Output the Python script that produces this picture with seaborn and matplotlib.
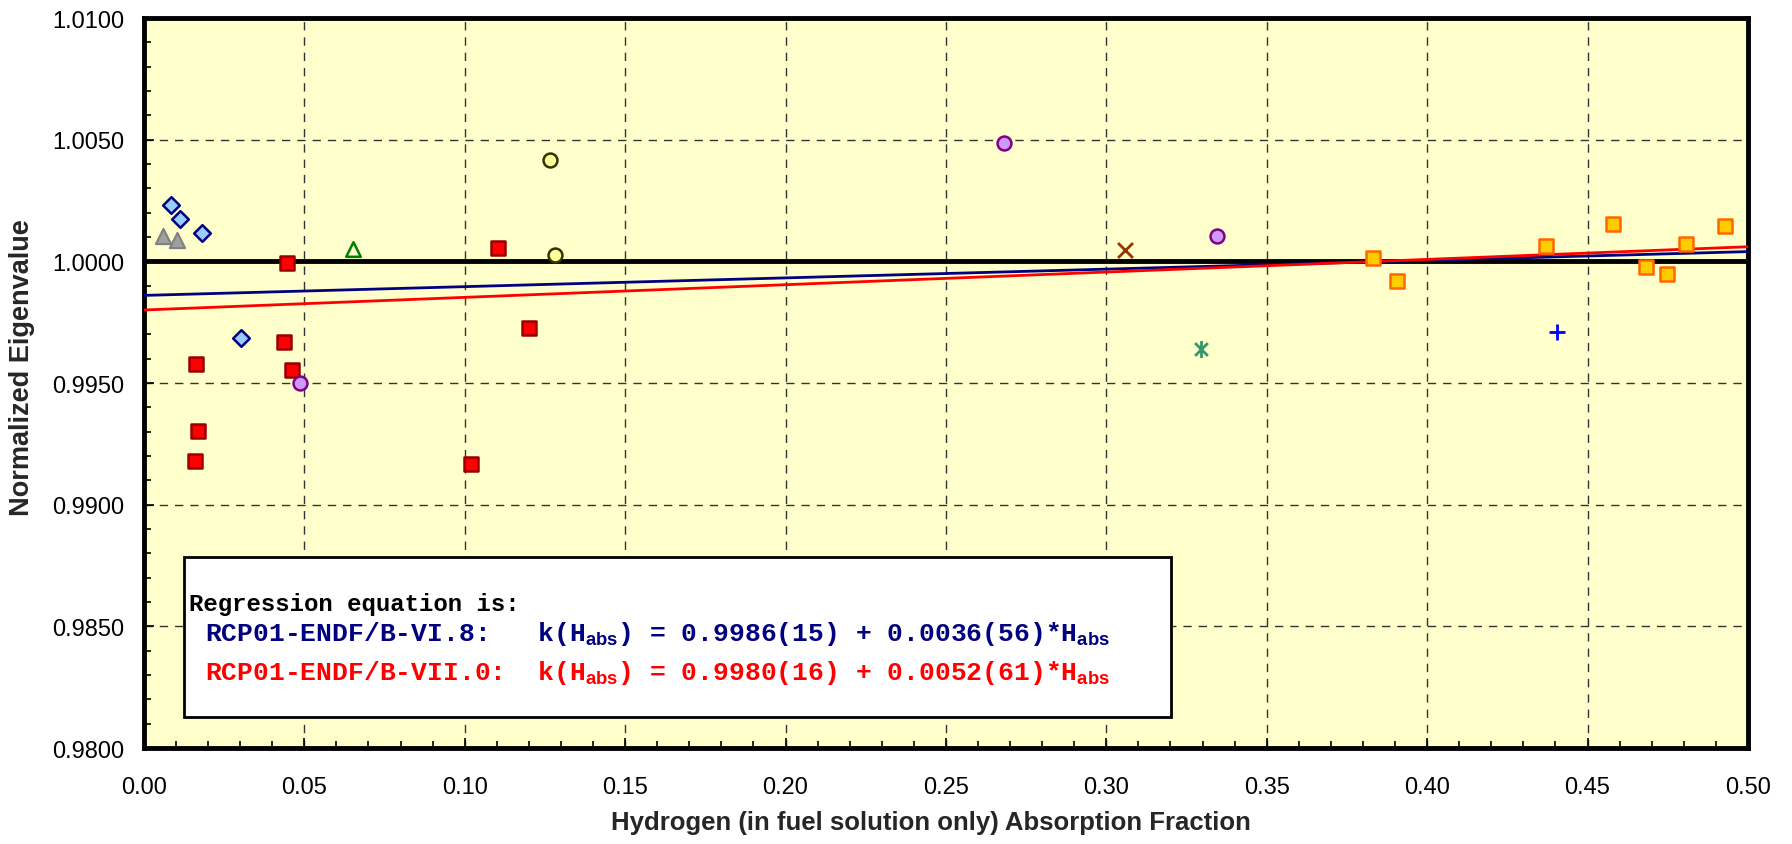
import numpy as np
import matplotlib
matplotlib.use("Agg")
import matplotlib.pyplot as plt
from matplotlib.patches import Rectangle
from matplotlib.path import Path
from matplotlib.ticker import MultipleLocator, FormatStrFormatter
import seaborn as sns

# ---------------- data ----------------
diamond_x = [0.0084, 0.0112, 0.0182, 0.0303]
diamond_y = [1.00230, 1.00173, 1.00115, 0.99683]

gray_tri_x = [0.0061, 0.0104]
gray_tri_y = [1.00104, 1.00088]

green_tri_x = [0.0651]
green_tri_y = [1.00049]

red_sq_x = [0.0447, 0.1105, 0.0436, 0.0161, 0.0463, 0.0168, 0.0160, 0.1019, 0.1199]
red_sq_y = [0.99995, 1.00055, 0.99670, 0.99580, 0.99553, 0.99302, 0.99181, 0.99169, 0.99727]

yellow_x = [0.1265, 0.1283]
yellow_y = [1.00417, 1.00025]

purple_x = [0.0487, 0.2681, 0.3344]
purple_y = [0.99501, 1.00488, 1.00104]

cross_x = [0.3059]
cross_y = [1.00045]

aster_x = [0.3295]
aster_y = [0.99641]

plus_x = [0.4404]
plus_y = [0.99711]

orange_x = [0.3831, 0.3907, 0.4370, 0.4579, 0.4681, 0.4747, 0.4806, 0.4930]
orange_y = [1.00012, 0.99919, 1.00065, 1.00154, 0.99977, 0.99947, 1.00070, 1.00145]

# regression fits k(H) = a + b*H
fit_names = ["RCP01-ENDF/B-VI.8:   ", "RCP01-ENDF/B-VII.0:  "]
fit_intercept = [0.9986, 0.9980]
fit_intercept_err = ["15", "16"]
fit_slope = [0.0036, 0.0052]
fit_slope_err = ["56", "61"]
fit_colors = ["#000080", "#FF0000"]

x_range = [0.0, 0.5]
y_range = [0.98, 1.01]

# ---------------- style ----------------
sns.set_style("ticks")
plt.rcParams["font.family"] = ["Liberation Sans", "DejaVu Sans"]
plt.rcParams["mathtext.fontset"] = "custom"
plt.rcParams["mathtext.sf"] = "Liberation Sans:bold"
plt.rcParams["mathtext.rm"] = "Liberation Mono:bold"

fig = plt.figure(figsize=(17.92, 8.45), dpi=100)
ax = fig.add_axes([0.0803, 0.1136, 0.8951, 0.8639])
ax.set_facecolor("#FFFFCC")

# grid
ax.set_axisbelow(True)
ax.grid(True, which="major", color="#333333", linestyle=(0, (6, 5)), linewidth=1.0)

# reference line at unity
ax.axhline(1.0, color="black", lw=3.5, zorder=2)

# regression lines
xs = np.array(x_range)
for a, b, c in zip(fit_intercept, fit_slope, fit_colors):
    sns.lineplot(x=xs, y=a + b * xs, color=c, lw=2, ax=ax, zorder=3)

# markers
asterisk = Path(
    [(0, -1), (0, 1), (-0.75, -0.75), (0.75, 0.75), (-0.75, 0.75), (0.75, -0.75)],
    [Path.MOVETO, Path.LINETO, Path.MOVETO, Path.LINETO, Path.MOVETO, Path.LINETO],
)

sns.scatterplot(x=diamond_x, y=diamond_y, marker="D", s=72, color="#99CCFF",
                edgecolor="#000080", linewidth=1.8, ax=ax, zorder=5)
sns.scatterplot(x=gray_tri_x, y=gray_tri_y, marker="^", s=120, color="#A0A0A0",
                edgecolor="#808080", linewidth=1.5, ax=ax, zorder=5)
sns.scatterplot(x=green_tri_x, y=green_tri_y, marker="^", s=110, color="#FFFFCC",
                edgecolor="#008000", linewidth=1.8, ax=ax, zorder=5)
sns.scatterplot(x=red_sq_x, y=red_sq_y, marker="s", s=105, color="#FF0000",
                edgecolor="#990000", linewidth=1.8, ax=ax, zorder=5)
sns.scatterplot(x=yellow_x, y=yellow_y, marker="o", s=100, color="#FFFF99",
                edgecolor="#333300", linewidth=1.8, ax=ax, zorder=5)
sns.scatterplot(x=purple_x, y=purple_y, marker="o", s=100, color="#CC99FF",
                edgecolor="#800080", linewidth=1.8, ax=ax, zorder=5)
sns.scatterplot(x=cross_x, y=cross_y, marker="x", s=115, color="#993300",
                linewidth=2, ax=ax, zorder=5)
sns.scatterplot(x=aster_x, y=aster_y, marker=asterisk, s=150, color="#339966",
                edgecolor="#339966", linewidth=2, ax=ax, zorder=5)
sns.scatterplot(x=plus_x, y=plus_y, marker="+", s=140, color="#0000FF",
                linewidth=2, ax=ax, zorder=5)
sns.scatterplot(x=orange_x, y=orange_y, marker="s", s=105, color="#FFCC00",
                edgecolor="#FF6600", linewidth=1.8, ax=ax, zorder=5)

# axes limits / ticks
ax.set_xlim(*x_range)
ax.set_ylim(*y_range)
ax.xaxis.set_major_locator(MultipleLocator(0.05))
ax.xaxis.set_minor_locator(MultipleLocator(0.01))
ax.yaxis.set_major_locator(MultipleLocator(0.005))
ax.yaxis.set_minor_locator(MultipleLocator(0.001))
ax.xaxis.set_major_formatter(FormatStrFormatter("%.2f"))
ax.yaxis.set_major_formatter(FormatStrFormatter("%.4f"))
ax.tick_params(which="both", direction="in", top=False, right=False,
               color="black", width=1.2, labelsize=17, labelcolor="black")
ax.tick_params(which="major", length=7)
ax.tick_params(which="minor", length=5)
ax.tick_params(axis="x", which="major", pad=20)
ax.tick_params(axis="y", which="major", pad=14)

for sp in ax.spines.values():
    sp.set_visible(True)
    sp.set_linewidth(3.5)
    sp.set_color("black")

ax.set_xlabel("Hydrogen (in fuel solution only) Absorption Fraction",
              fontsize=18.5, fontweight="bold")
ax.set_ylabel("Normalized Eigenvalue", fontsize=19.5, fontweight="bold")
ax.xaxis.set_label_coords(0.4907, -0.085)
ax.yaxis.set_label_coords(-0.068, 0.523)

# regression equation box
ax.add_patch(Rectangle((0.025, 0.0425), 0.6153, 0.2191, transform=ax.transAxes,
                       facecolor="white", edgecolor="black", lw=2, zorder=6))
ax.text(0.0281, 0.189, "Regression equation is:", transform=ax.transAxes,
        color="black", va="baseline", ha="left", zorder=7,
        family="Liberation Mono", weight="bold", fontsize=17.3)
line_y = [0.1475, 0.0945]
for name, a, ae, b, be, c, yy in zip(fit_names, fit_intercept, fit_intercept_err,
                                     fit_slope, fit_slope_err, fit_colors, line_y):
    s = ("k(H$_{\\mathsf{abs}}$) = "
         + f"{a:.4f}({ae}) + {b:.4f}({be})*H" + "$_{\\mathsf{abs}}$")
    ax.text(0.0381, yy, name + s, transform=ax.transAxes, color=c,
            va="baseline", ha="left", zorder=7,
            family="Liberation Mono", weight="bold", fontsize=19)

fig.savefig("out.png", dpi=100, facecolor="white")
